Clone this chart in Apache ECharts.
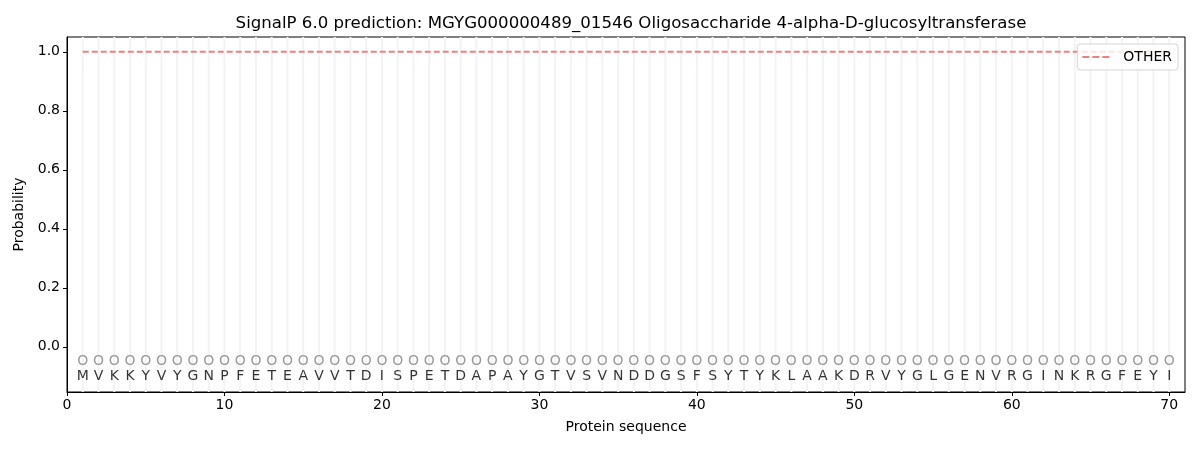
<!DOCTYPE html>
<html>
<head>
<meta charset="utf-8">
<script src="https://cdn.jsdelivr.net/npm/echarts@6/dist/echarts.min.js"></script>
<style>
  html, body { margin: 0; padding: 0; background: #fff; }
  #chart { width: 1200px; height: 450px; }
</style>
</head>
<body>
<div id="chart"></div>
<script>
// residues of the protein, one per position 1..70
const residues = "MVKKYVYGNPFETEAVVTDISPETDAPAYGTVSVNDDGSFSYTYKLAAKDRVYGLGENVRGINKRGFEYI".split("");
const positions = residues.map((_, i) => i + 1);
// predicted probability of OTHER at each position
const otherProb = positions.map(() => 1.0);
// per-residue label markers drawn under the axis zero
const markerLabels = positions.map(() => "O");
const markerY = -0.05;
const residueY = -0.1;
const yTicks = [0.0, 0.2, 0.4, 0.6, 0.8, 1.0];

const font = "DejaVu Sans";
const chart = echarts.init(document.getElementById("chart"));

chart.setOption({
    animation: false,
    textStyle: { fontFamily: font },
    title: {
        text: "SignalP 6.0 prediction: MGYG000000489_01546 Oligosaccharide 4-alpha-D-glucosyltransferase",
        left: 626,
        top: 10,
        textAlign: "center",
        textStyle: { fontFamily: font, fontSize: 16.6, fontWeight: "normal", color: "#000" }
    },
    legend: {
        right: 22,
        top: 44,
        z: 10,
        orient: "vertical",
        padding: [6, 6, 6, 5],
        backgroundColor: "rgba(255,255,255,0.8)",
        borderColor: "#d5d5d5",
        borderWidth: 1,
        borderRadius: 3,
        itemWidth: 27,
        itemHeight: 10,
        textStyle: { fontFamily: font, fontSize: 14, color: "#000", padding: [0, 0, 0, 9] },
        data: [{ name: "OTHER", icon: "path://M0,4h7v2h-7z M10,4h7v2h-7z M20,4h7v2h-7z" }]
    },
    grid: {
        left: 67,
        right: 15,
        top: 37,
        bottom: 58,
        show: true,
        borderColor: "#000",
        borderWidth: 1
    },
    xAxis: {
        type: "value",
        min: 0,
        max: 71,
        interval: 10,
        name: "Protein sequence",
        nameLocation: "middle",
        nameGap: 28,
        nameTextStyle: { fontFamily: font, fontSize: 14, color: "#000" },
        axisLine: { show: true, onZero: false, lineStyle: { color: "#000" } },
        axisTick: { show: true, length: 4, lineStyle: { color: "#000" } },
        axisLabel: {
            fontFamily: font, fontSize: 14, color: "#000", margin: 6,
            showMaxLabel: false,
            formatter: v => (v % 10 === 0 ? String(v) : "")
        },
        splitLine: { show: false }
    },
    yAxis: {
        type: "value",
        min: -0.153,
        max: 1.05,
        name: "Probability",
        nameLocation: "middle",
        nameGap: 40,
        nameTextStyle: { fontFamily: font, fontSize: 14, color: "#000" },
        axisLine: { show: true, onZero: false, lineStyle: { color: "#000" } },
        axisTick: {
            show: true, length: 4, lineStyle: { color: "#000" },
            customValues: yTicks
        },
        axisLabel: {
            fontFamily: font, fontSize: 14, color: "#000", margin: 7,
            customValues: yTicks,
            formatter: v => v.toFixed(1)
        },
        splitLine: { show: false }
    },
    series: [
        {
            // light vertical guide at each residue position
            type: "custom",
            silent: true,
            z: 1,
            data: positions.map(p => [p]),
            renderItem: (params, api) => {
                const x = api.value(0);
                const top = api.coord([x, 1.05]);
                const bottom = api.coord([x, -0.153]);
                return {
                    type: "line",
                    shape: { x1: top[0], y1: top[1], x2: bottom[0], y2: bottom[1] },
                    style: { stroke: "#f3f3f3", lineWidth: 2 }
                };
            }
        },
        {
            name: "OTHER",
            type: "line",
            z: 3,
            symbol: "none",
            data: positions.map((p, i) => [p, otherProb[i]]),
            lineStyle: { color: "#f08080", width: 2, type: [6, 3] },
            itemStyle: { color: "#f08080" }
        },
        {
            type: "scatter",
            z: 2,
            symbolSize: 0,
            silent: true,
            data: positions.map((p, i) => ({ value: [p, markerY], name: markerLabels[i] })),
            label: {
                show: true,
                position: "inside",
                formatter: p => p.name,
                fontFamily: font,
                fontSize: 14,
                color: "#808080"
            }
        },
        {
            type: "scatter",
            z: 2,
            symbolSize: 0,
            silent: true,
            data: positions.map((p, i) => ({ value: [p, residueY], name: residues[i] })),
            label: {
                show: true,
                position: "inside",
                formatter: p => p.name,
                fontFamily: font,
                fontSize: 14,
                color: "#000"
            }
        }
    ]
});
</script>
</body>
</html>
